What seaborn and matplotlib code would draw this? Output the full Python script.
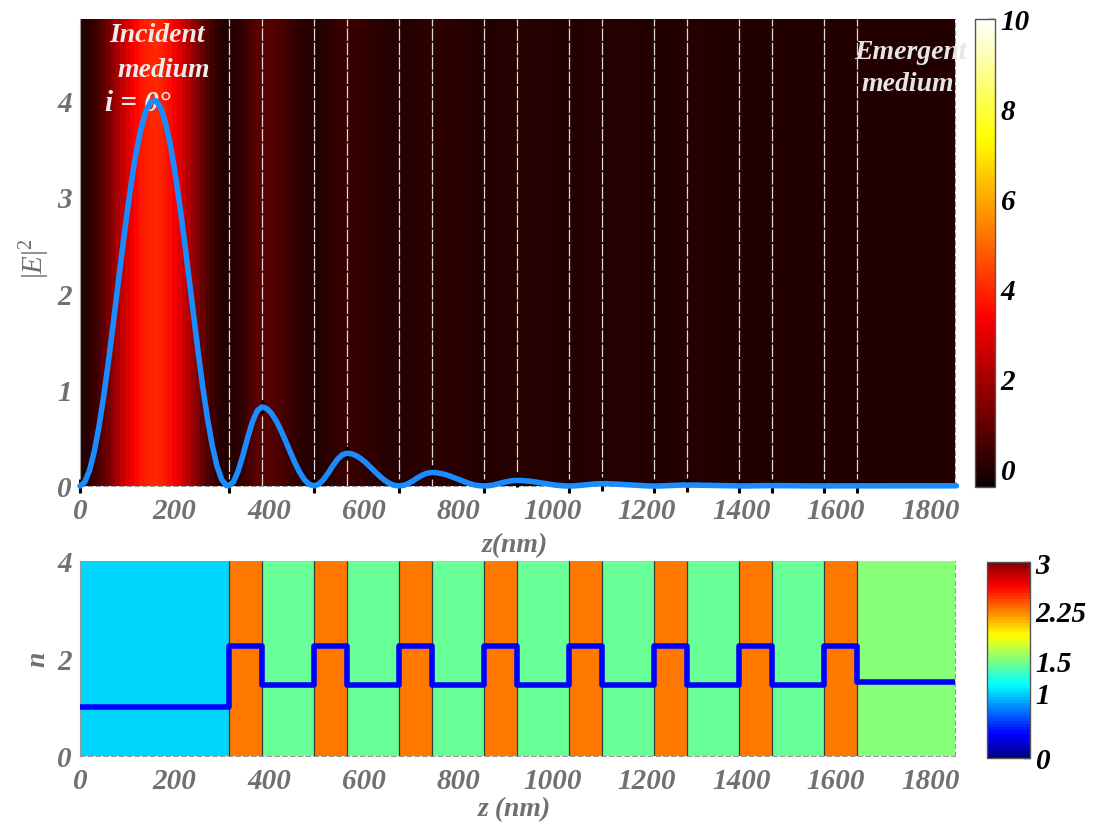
import numpy as np
import matplotlib
matplotlib.use('Agg')
import matplotlib.pyplot as plt
from matplotlib.colors import ListedColormap
import seaborn as sns

sns.set_style('white')
plt.rcParams['font.family'] = ['Liberation Serif', 'DejaVu Serif']
plt.rcParams['mathtext.fontset'] = 'custom'
plt.rcParams['mathtext.rm'] = 'Liberation Serif'
plt.rcParams['mathtext.it'] = 'Liberation Serif:italic'
plt.rcParams['mathtext.bf'] = 'Liberation Serif:bold'

# ---------------- data ----------------
# |E|^2 in the incident medium, z = 0..310 nm (step 10)
E_incident = [0.000, 0.040, 0.159, 0.352, 0.611, 0.925, 1.283, 1.670, 2.070, 2.466,
              2.845, 3.190, 3.487, 3.723, 3.890, 3.982, 3.995, 3.928, 3.782, 3.565,
              3.285, 2.952, 2.580, 2.185, 1.782, 1.389, 1.020, 0.692, 0.417, 0.205,
              0.066, 0.004]
# |E|^2 inside the multilayer, z = 315..1645 nm (step 10)
E_stack = [0.004, 0.044, 0.158, 0.321, 0.503, 0.666, 0.780, 0.820,
           0.803, 0.755, 0.678, 0.580, 0.468, 0.352, 0.240, 0.142, 0.065, 0.017, 0.002,
           0.017, 0.064, 0.132, 0.208, 0.276, 0.323, 0.340,
           0.333, 0.313, 0.281, 0.241, 0.194, 0.146, 0.099, 0.059, 0.027, 0.007, 0.001,
           0.007, 0.026, 0.054, 0.086, 0.114, 0.133, 0.140,
           0.137, 0.129, 0.116, 0.099, 0.080, 0.060, 0.041, 0.024, 0.011, 0.003, 0.000,
           0.003, 0.011, 0.023, 0.035, 0.047, 0.055, 0.058,
           0.057, 0.053, 0.048, 0.041, 0.033, 0.025, 0.017, 0.010, 0.005, 0.001, 0.000,
           0.001, 0.005, 0.009, 0.015, 0.019, 0.023, 0.024,
           0.024, 0.022, 0.020, 0.017, 0.014, 0.010, 0.007, 0.004, 0.002, 0.000, 0.000,
           0.000, 0.002, 0.004, 0.006, 0.008, 0.010, 0.010,
           0.010, 0.009, 0.008, 0.007, 0.006, 0.004, 0.003, 0.002, 0.001, 0.000, 0.000,
           0.000, 0.001, 0.002, 0.002, 0.003, 0.004, 0.004,
           0.004, 0.004, 0.003, 0.003, 0.002, 0.002, 0.001, 0.001, 0.000, 0.000, 0.000,
           0.000, 0.000, 0.001, 0.001, 0.002, 0.002, 0.002]
# |E|^2 in the emergent medium, z = 1655..1855 nm (step 10)
E_emergent = [0.002] * 21

z_incident = np.arange(0, 320, 10)
z_stack = np.arange(315, 1655, 10)
z_emergent = np.arange(1655, 1865, 10)

layer_edges = [0, 315, 385, 495, 565, 675, 745, 855, 925, 1035, 1105,
               1215, 1285, 1395, 1465, 1575, 1645, 1852]
n_layers = [1.0, 2.25, 1.45, 2.25, 1.45, 2.25, 1.45, 2.25, 1.45,
            2.25, 1.45, 2.25, 1.45, 2.25, 1.45, 2.25, 1.52]

x_ticks = [0, 200, 400, 600, 800, 1000, 1200, 1400, 1600, 1800]
y1_ticks = [0, 1, 2, 3, 4]
y2_ticks = [0, 2, 4]
cbar1_ticks = [0, 2, 4, 6, 8, 10]
cbar2_ticks = [0, 1, 1.5, 2.25, 3]
cbar2_labels = ['0', '1', '1.5', '2.25', '3']

# MATLAB-style 64-level jet colormap
_t = (np.arange(64) + 0.5) / 64
_jet = np.stack([np.clip(1.5 - np.abs(4 * _t - 3), 0, 1),
                 np.clip(1.5 - np.abs(4 * _t - 2), 0, 1),
                 np.clip(1.5 - np.abs(4 * _t - 1), 0, 1)], axis=1)
mjet = ListedColormap(_jet, name='mjet')

# ---------------- figure ----------------
z = np.concatenate([z_incident, z_stack, z_emergent])
E = np.array(E_incident + E_stack + E_emergent)

W, H = 1094, 829
fig = plt.figure(figsize=(W / 100, H / 100), dpi=100)


def frac(l, t, r, b):
    return [l / W, 1 - b / H, (r - l) / W, (b - t) / H]


ax1 = fig.add_axes(frac(80, 20, 955, 487))
cax1 = fig.add_axes(frac(975, 20, 995, 488))
ax2 = fig.add_axes(frac(80, 562, 955, 757))
cax2 = fig.add_axes(frac(987, 563, 1030, 759))

XMAX = 1852
YMAX1 = 4.84
GRAY = '#707070'
TXT = dict(fontsize=20, fontweight='bold', fontstyle='italic')
TICKSIZE = 21

# --- top panel ---
mesh1 = ax1.pcolormesh(z, [0, YMAX1], np.vstack([E, E]), cmap='hot',
                       vmin=-0.4, vmax=10, shading='nearest', zorder=0)
for b in layer_edges[1:-1]:
    ax1.axvline(b, color='#dadada', lw=0.9, ls=(0, (10, 1.5)), zorder=1)

mask = np.isin(z, [0] + layer_edges[1:-1])
ax1.plot(z[mask], E[mask], '|', color='k', ms=10, mew=2.2, zorder=3, clip_on=False)
sns.lineplot(x=z, y=E, ax=ax1, color='#1a8cff', lw=4, estimator=None, sort=False,
             zorder=5, clip_on=False)

ax1.text(163, 4.68, 'Incident', color='#ececec', ha='center', va='center', **TXT)
ax1.text(178, 4.32, 'medium', color='#ececec', ha='center', va='center', **TXT)
ax1.text(53, 3.97, 'i = 0°', color='#ececec', ha='left', va='center',
         fontsize=21, fontweight='bold', fontstyle='italic')
ax1.text(1758, 4.50, 'Emergent', color='#e6e6e6', ha='center', va='center', **TXT)
ax1.text(1752, 4.17, 'medium', color='#e6e6e6', ha='center', va='center', **TXT)

ax1.set_xlim(0, XMAX)
ax1.set_ylim(0, YMAX1)
ax1.set_xticks(x_ticks)
ax1.set_yticks(y1_ticks)
ax1.set_xlabel('z(nm)', color=GRAY, **TXT)
ax1.set_ylabel(r'$|E|^2$', color=GRAY, fontsize=21)
ax1.xaxis.set_label_coords(0.497, -0.098)
ax1.yaxis.set_label_coords(-0.032, 0.49)

cb1 = fig.colorbar(mesh1, cax=cax1, ticks=cbar1_ticks)

# --- bottom panel ---
mesh2 = ax2.pcolormesh(layer_edges, [0, 4], [n_layers], cmap=mjet, vmin=0, vmax=3,
                       shading='flat', zorder=0)
ax2.vlines(layer_edges[1:-1], 0, 4, color='#3a3a3a', lw=0.9, zorder=1)
sns.lineplot(x=layer_edges, y=n_layers + [n_layers[-1]], ax=ax2, color='#0000ff',
             lw=4, estimator=None, sort=False, drawstyle='steps-post', zorder=5)
ax2.set_xlim(0, XMAX)
ax2.set_ylim(0, 4)
ax2.set_xticks(x_ticks)
ax2.set_yticks(y2_ticks)
ax2.set_xlabel('z (nm)', color=GRAY, **TXT)
ax2.set_ylabel('n', color=GRAY, **TXT)
ax2.xaxis.set_label_coords(0.497, -0.205)
ax2.yaxis.set_label_coords(-0.034, 0.5)

cb2 = fig.colorbar(mesh2, cax=cax2, ticks=cbar2_ticks)
cb2.set_ticklabels(cbar2_labels)

# --- styling ---
for ax in (ax1, ax2):
    ax.tick_params(axis='x', length=0, pad=8, labelsize=TICKSIZE, labelcolor=GRAY)
    ax.tick_params(axis='y', length=0, pad=6, labelsize=TICKSIZE, labelcolor=GRAY)
    for lab in ax.get_xticklabels() + ax.get_yticklabels():
        lab.set_fontweight('bold')
        lab.set_fontstyle('italic')
    ax.spines['top'].set_visible(False)
    ax.spines['left'].set_color('#9a9a9a')
    for s in ('bottom', 'right'):
        ax.spines[s].set_color('#9a9a9a')
        ax.spines[s].set_linestyle((0, (4, 3)))
    ax.legend_ = None

for cb in (cb1, cb2):
    cb.ax.tick_params(direction='in', length=5, width=1, color='#333333',
                      labelsize=TICKSIZE, labelcolor='black', pad=4)
    for lab in cb.ax.get_yticklabels():
        lab.set_fontweight('bold')
        lab.set_fontstyle('italic')
    cb.outline.set_edgecolor('#555555')
    cb.outline.set_linewidth(1)

fig.savefig('out.png', dpi=100)
